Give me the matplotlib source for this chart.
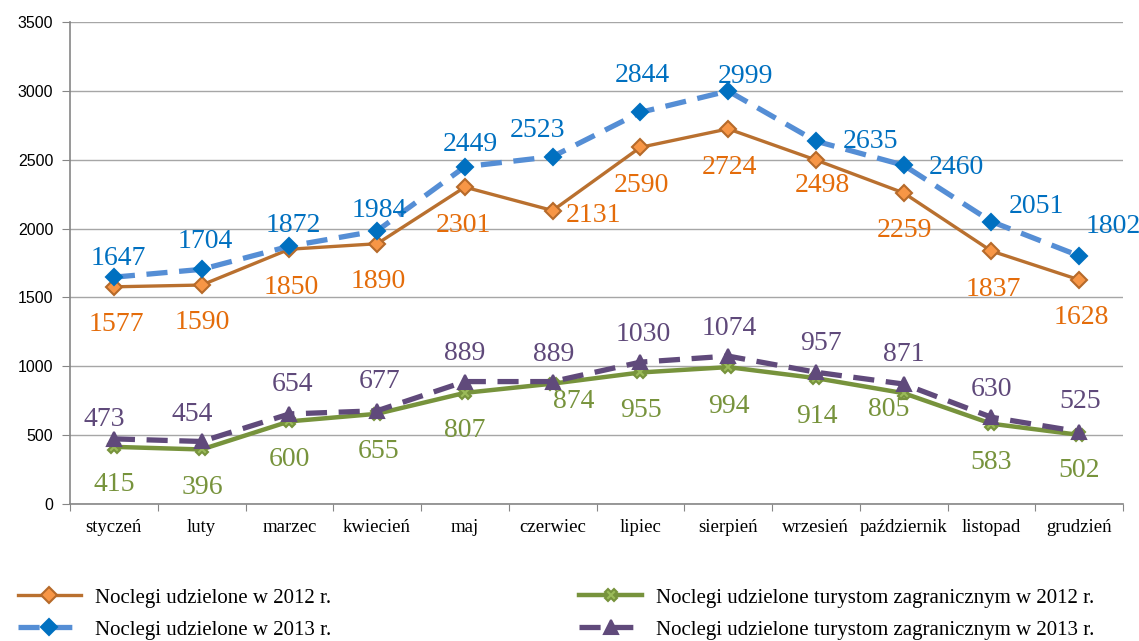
from matplotlib import pyplot as pl

import matplotlib
import numpy as np

matplotlib.use('Agg')

months = [
          'styczeń', 'luty', 'marzec', 'kwiecień', 'maj', 'czerwiec',
          'lipiec', 'sierpień', 'wrzesień', 'październik', 'listopad',
          'grudzień',
          ]

total_2012 = [1577, 1590, 1850, 1890, 2301, 2131,
              2590, 2724, 2498, 2259, 1837, 1628]
total_2013 = [1647, 1704, 1872, 1984, 2449, 2523,
              2844, 2999, 2635, 2460, 2051, 1802]
foreign_2012 = [415, 396, 600, 655, 807, 874,
                955, 994, 914, 805, 583, 502]
foreign_2013 = [473, 454, 654, 677, 889, 889,
                1030, 1074, 957, 871, 630, 525]

labels = [
          'Noclegi udzielone w 2012 r.',
          'Noclegi udzielone w 2013 r.',
          'Noclegi udzielone turystom zagranicznym w 2012 r.',
          'Noclegi udzielone turystom zagranicznym w 2013 r.',
          ]

# Label offsets (pixels) for each data label, as placed in the original
off_t12 = [(2, -35), (1, -34), (2, -35), (1, -35), (-1, -35), (41, -2),
           (1, -35), (1, -36), (6, -23), (1, -35), (2, -35), (2, -35)]
off_t13 = [(4, 22), (4, 31), (4, 24), (2, 23), (5, 25), (-15, 29),
           (2, 40), (17, 17), (55, 3), (53, 1), (45, 18), (34, 32)]
off_f12 = [(0, -35), (1, -35), (0, -35), (1, -35), (0, -35), (21, -15),
           (1, -35), (1, -36), (1, -35), (-15, -13), (0, -36), (0, -33)]
off_f13 = [(-10, 22), (-9, 30), (3, 32), (2, 32), (0, 31), (1, 30),
           (3, 31), (1, 31), (5, 32), (0, 33), (0, 31), (1, 33)]

serif = 'Liberation Serif'
sans = 'Liberation Sans'

fig = pl.figure(figsize=(11.39, 6.41), dpi=100)
ax = fig.add_axes([70/1139, 1-504/641, (1123-70)/1139, (504-22)/641])

x = np.arange(len(months))

series = [
          dict(y=total_2012, off=off_t12, color='#B9702F', mfc='#F79646',
               mec='#B66A2A', marker='D', ms=8, lw=2.4, ls='-',
               tc='#E46C0A', z=3),
          dict(y=total_2013, off=off_t13, color='#558ED5', mfc='#0070C0',
               mec='#0070C0', marker='D', ms=8, lw=3.8, ls=(0, (4, 2.2)),
               tc='#0070C0', z=4),
          dict(y=foreign_2012, off=off_f12, color='#77933C', mfc='#9BBB59',
               mec='#77933C', marker='X', ms=9, lw=3.2, ls='-',
               tc='#77933C', z=3),
          dict(y=foreign_2013, off=off_f13, color='#604A7B', mfc='#604A7B',
               mec='#604A7B', marker='^', ms=10, lw=3.8, ls=(0, (4, 2.2)),
               tc='#5F497A', z=4),
          ]

handles = []
for s, label in zip(series, labels):
    h, = ax.plot(
                 x,
                 s['y'],
                 color=s['color'],
                 lw=s['lw'],
                 ls=s['ls'],
                 marker=s['marker'],
                 ms=s['ms'],
                 mfc=s['mfc'],
                 mec=s['mec'],
                 mew=1.5,
                 label=label,
                 zorder=s['z'],
                 )
    handles.append(h)
    for xi, yi, (dx, dy) in zip(x, s['y'], s['off']):
        ax.annotate(
                    str(yi),
                    (xi, yi),
                    xytext=(dx, dy-3),
                    textcoords='offset pixels',
                    ha='center',
                    va='center',
                    color=s['tc'],
                    fontsize=20,
                    family=serif,
                    zorder=5,
                    )

ax.set_ylim(0, 3500)
ax.set_xlim(-0.5, len(months)-0.5)
ax.set_yticks(np.arange(0, 3501, 500))
ax.set_yticklabels([str(v) for v in range(0, 3501, 500)], family=sans,
                   fontsize=11.5)
ax.yaxis.grid(True, color='#A6A6A6', lw=1)
ax.set_axisbelow(True)

ax.set_xticks(np.arange(-0.5, len(months)))
ax.set_xticklabels([])
ax.set_xticks(x, minor=True)
ax.set_xticklabels(months, minor=True, family=serif, fontsize=13.5)
ax.tick_params(axis='x', which='minor', length=0, pad=11)
ax.tick_params(axis='x', which='major', length=5, color='#868686')
ax.tick_params(axis='y', length=6, color='#868686', pad=6)

for side in ['top', 'right']:
    ax.spines[side].set_visible(False)
for side in ['left', 'bottom']:
    ax.spines[side].set_color('#868686')
    ax.spines[side].set_linewidth(1.2)

fig.legend(
           handles,
           labels,
           loc='upper left',
           bbox_to_anchor=(18/1139, 1-588/641),
           ncol=2,
           frameon=False,
           borderpad=0,
           borderaxespad=0,
           handlelength=3.0,
           handletextpad=0.7,
           columnspacing=11.9,
           labelspacing=0.6,
           prop={'family': serif, 'size': 15},
           )

fig.savefig('out.png', dpi=100)
